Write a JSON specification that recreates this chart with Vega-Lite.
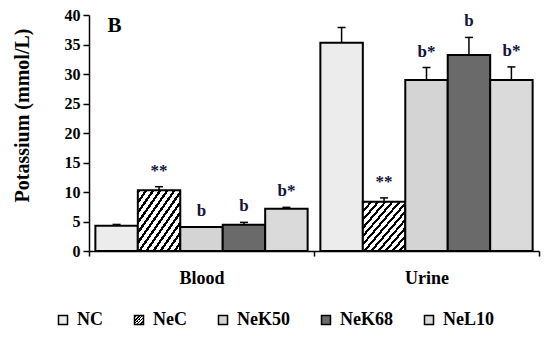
{
  "$schema": "https://vega.github.io/schema/vega-lite/v6.json",
  "width": 450,
  "height": 236,
  "autosize": {"type": "none"},
  "padding": {"left": 89, "top": 15, "right": 10, "bottom": 99},
  "background": "white",
  "data": {"values": [
    {"site": "Blood", "group": "NC", "value": 4.3, "err": 4.5, "label": ""},
    {"site": "Blood", "group": "NeC", "value": 10.3, "err": 10.9, "label": "**"},
    {"site": "Blood", "group": "NeK50", "value": 4.05, "err": 4.1, "label": "b"},
    {"site": "Blood", "group": "NeK68", "value": 4.45, "err": 4.85, "label": "b"},
    {"site": "Blood", "group": "NeL10", "value": 7.15, "err": 7.4, "label": "b*"},
    {"site": "Urine", "group": "NC", "value": 35.3, "err": 37.9, "label": ""},
    {"site": "Urine", "group": "NeC", "value": 8.35, "err": 9.0, "label": "**"},
    {"site": "Urine", "group": "NeK50", "value": 29.0, "err": 31.1, "label": "b*"},
    {"site": "Urine", "group": "NeK68", "value": 33.2, "err": 36.2, "label": "b"},
    {"site": "Urine", "group": "NeL10", "value": 29.0, "err": 31.2, "label": "b*"}
  ]},
  "encoding": {
    "x": {"field": "site", "type": "nominal", "sort": ["Blood", "Urine"],
      "scale": {"paddingInner": 0, "paddingOuter": 0},
      "axis": {"title": null, "labelAngle": 0, "labelFont": "Liberation Serif", "labelFontSize": 18, "labelFontWeight": "bold", "labelColor": "black", "labelPadding": 13, "tickBand": "extent", "tickSize": 5, "tickWidth": 1.5, "tickColor": "black", "domainColor": "black", "domainWidth": 1.5}},
    "xOffset": {"field": "group", "type": "nominal", "sort": ["NC", "NeC", "NeK50", "NeK68", "NeL10"],
      "scale": {"paddingInner": 0, "paddingOuter": 0.15}}
  },
  "resolve": {"axis": {"y": "independent"}},
  "layer": [
    {
      "mark": {"type": "bar", "stroke": "black", "strokeWidth": 2},
      "encoding": {
        "y": {"field": "value", "type": "quantitative",
          "scale": {"domain": [0, 40], "nice": false},
          "axis": {"values": [0, 5, 10, 15, 20, 25, 30, 35, 40], "labelOverlap": false, "labelSeparation": 0, "title": "Potassium (mmol/L)", "grid": false, "titleFont": "Liberation Serif", "titleFontSize": 20, "titleFontWeight": "bold", "titleColor": "black", "titlePadding": 32, "titleY": 100, "labelFont": "Liberation Serif", "labelFontSize": 16, "labelFontWeight": "bold", "labelColor": "black", "labelPadding": 3, "tickSize": 6, "tickWidth": 1.5, "tickColor": "black", "domainColor": "black", "domainWidth": 1.5}},
        "fill": {"field": "group", "type": "nominal",
          "scale": {"domain": ["NC", "NeC", "NeK50", "NeK68", "NeL10"],
            "range": [
              "#ececec",
              {"expr": "{gradient:'linear',x1:0,y1:0,x2:1,y2:1,stops:[{offset:0,color:'#000'},{offset:0.0333,color:'#000'},{offset:0.0333,color:'#fff'},{offset:0.0833,color:'#fff'},{offset:0.0833,color:'#000'},{offset:0.1167,color:'#000'},{offset:0.1167,color:'#fff'},{offset:0.1667,color:'#fff'},{offset:0.1667,color:'#000'},{offset:0.2,color:'#000'},{offset:0.2,color:'#fff'},{offset:0.25,color:'#fff'},{offset:0.25,color:'#000'},{offset:0.2833,color:'#000'},{offset:0.2833,color:'#fff'},{offset:0.3333,color:'#fff'},{offset:0.3333,color:'#000'},{offset:0.3667,color:'#000'},{offset:0.3667,color:'#fff'},{offset:0.4167,color:'#fff'},{offset:0.4167,color:'#000'},{offset:0.45,color:'#000'},{offset:0.45,color:'#fff'},{offset:0.5,color:'#fff'},{offset:0.5,color:'#000'},{offset:0.5333,color:'#000'},{offset:0.5333,color:'#fff'},{offset:0.5833,color:'#fff'},{offset:0.5833,color:'#000'},{offset:0.6167,color:'#000'},{offset:0.6167,color:'#fff'},{offset:0.6667,color:'#fff'},{offset:0.6667,color:'#000'},{offset:0.7,color:'#000'},{offset:0.7,color:'#fff'},{offset:0.75,color:'#fff'},{offset:0.75,color:'#000'},{offset:0.7833,color:'#000'},{offset:0.7833,color:'#fff'},{offset:0.8333,color:'#fff'},{offset:0.8333,color:'#000'},{offset:0.8667,color:'#000'},{offset:0.8667,color:'#fff'},{offset:0.9167,color:'#fff'},{offset:0.9167,color:'#000'},{offset:0.95,color:'#000'},{offset:0.95,color:'#fff'},{offset:1,color:'#fff'}]}"},
              "#d4d4d4",
              "#6a6a6a",
              "#dadada"
            ]},
          "legend": {"orient": "none", "legendX": -35, "legendY": 296, "direction": "horizontal", "columns": 5, "title": null, "symbolType": "square", "symbolSize": 81, "symbolStrokeColor": "black", "symbolStrokeWidth": 1.5, "symbolOpacity": 1, "labelFont": "Liberation Serif", "labelFontSize": 18, "labelFontWeight": "bold", "labelColor": "black", "labelOffset": 5, "columnPadding": 27, "padding": 0}}
      }
    },
    {
      "mark": {"type": "rule", "stroke": "black", "strokeWidth": 1.5},
      "encoding": {
        "y": {"field": "value", "type": "quantitative", "axis": null},
        "y2": {"field": "err"}
      }
    },
    {
      "mark": {"type": "tick", "orient": "horizontal", "size": 8, "thickness": 1.5, "color": "black", "opacity": 1},
      "encoding": {
        "y": {"field": "err", "type": "quantitative", "axis": null}
      }
    },
    {
      "mark": {"type": "text", "dy": -11, "baseline": "alphabetic", "font": "Liberation Serif", "fontSize": 17, "fontWeight": "bold", "color": "#14143c"},
      "encoding": {
        "y": {"field": "err", "type": "quantitative", "axis": null},
        "text": {"field": "label"}
      }
    },
    {
      "data": {"values": [{"panel": "B", "site": "Blood", "group": "NC", "pos": 37.2}]},
      "mark": {"type": "text", "align": "center", "baseline": "alphabetic", "dx": -2, "font": "Liberation Serif", "fontSize": 21, "fontWeight": "bold", "color": "black"},
      "encoding": {
        "y": {"field": "pos", "type": "quantitative", "axis": null},
        "text": {"field": "panel"}
      }
    }
  ],
  "config": {
    "view": {"stroke": null},
    "axis": {"grid": false}
  }
}
